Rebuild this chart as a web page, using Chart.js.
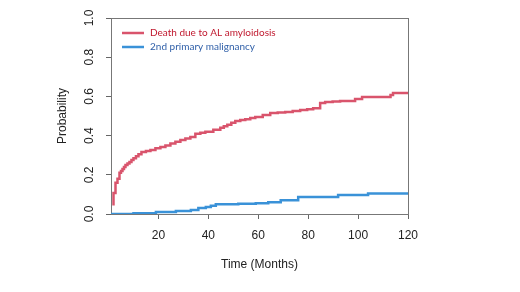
<!DOCTYPE html>
<html>
<head>
<meta charset="utf-8">
<script src="https://cdn.jsdelivr.net/npm/chart.js@4/dist/chart.umd.min.js"></script>
<style>
  html, body { margin: 0; padding: 0; background: #fff; }
  #wrap { width: 520px; height: 292px; }
</style>
</head>
<body>
<div id="wrap"><canvas id="km"></canvas></div>
<script>
// cumulative incidence
const deathMonths = [1.5, 2, 2.8, 3.6, 4.4, 5.0, 5.6, 6.2, 6.8, 7.6, 8.4, 9.2, 10, 11, 12, 13.2, 15, 16.8, 18.8, 20.8, 22.8, 24.8, 26.8, 28.8, 30.8, 32.8, 34.8, 36.8, 38.8, 42, 44.8, 46.2, 47.6, 49.2, 50.8, 52.8, 54.8, 56.8, 58.8, 61.8, 64.8, 67.8, 70.8, 73.8, 76.8, 79.6, 82, 84.8, 86.8, 89.8, 92.8, 98.8, 101.6, 113, 114, 120];
const deathProb   = [0.05, 0.107, 0.16, 0.18, 0.21, 0.22, 0.23, 0.24, 0.25, 0.258, 0.265, 0.275, 0.285, 0.295, 0.305, 0.316, 0.322, 0.327, 0.335, 0.342, 0.35, 0.36, 0.368, 0.378, 0.385, 0.393, 0.41, 0.415, 0.42, 0.43, 0.44, 0.448, 0.455, 0.465, 0.475, 0.48, 0.483, 0.49, 0.495, 0.505, 0.515, 0.518, 0.52, 0.525, 0.53, 0.535, 0.54, 0.566, 0.571, 0.574, 0.577, 0.587, 0.597, 0.607, 0.617, 0.617];

const spmMonths = [1, 10, 19, 27, 33, 36, 39, 41, 43, 52, 59, 64, 69, 76, 92, 104, 120];
const spmProb   = [0, 0.004, 0.01, 0.015, 0.02, 0.03, 0.036, 0.042, 0.05, 0.052, 0.055, 0.06, 0.07, 0.087, 0.097, 0.105, 0.105];

const xTicks = [20, 40, 60, 80, 100, 120];
const yTicks = [0, 0.2, 0.4, 0.6, 0.8, 1.0];

const seriesNames = ['Death due to AL amyloidosis', '2nd primary malignancy'];
const lineColors = ['#d9546c', '#3a92d8'];
const textColors = ['#c0182e', '#2f5fa8'];

const toPoints = (xs, ys) => xs.map((x, i) => ({ x: x, y: ys[i] }));

// box, rotated y labels and the inset legend
const extras = {
  id: 'extras',
  beforeDatasetsDraw(chart) {
    const { ctx, chartArea: a } = chart;
    ctx.save();
    ctx.strokeStyle = '#777';
    ctx.lineWidth = 1;
    ctx.strokeRect(a.left + 0.5, a.top + 0.5, a.right - a.left, a.bottom - a.top);
    ctx.restore();
  },
  afterDraw(chart) {
    const { ctx, chartArea: a } = chart;
    const y = chart.scales.y;
    ctx.save();
    ctx.fillStyle = '#222';
    ctx.font = '12px "Liberation Sans", Arial, sans-serif';
    ctx.textAlign = 'center';
    ctx.textBaseline = 'middle';
    yTicks.forEach(v => {
      ctx.save();
      ctx.translate(a.left - 21, y.getPixelForValue(v));
      ctx.rotate(-Math.PI / 2);
      ctx.fillText(v.toFixed(1), 0, 0);
      ctx.restore();
    });

    ctx.font = '10px Lato, "Open Sans", sans-serif';
    ctx.textAlign = 'left';
    seriesNames.forEach((name, i) => {
      const ly = a.top + 15 + i * 14;
      ctx.strokeStyle = lineColors[i];
      ctx.lineWidth = 2.5;
      ctx.beginPath();
      ctx.moveTo(a.left + 11, ly);
      ctx.lineTo(a.left + 33, ly);
      ctx.stroke();
      ctx.fillStyle = textColors[i];
      ctx.fillText(name, a.left + 39, ly);
    });
    ctx.restore();
  }
};

new Chart(document.getElementById('km'), {
  type: 'line',
  data: {
    datasets: [
      {
        label: seriesNames[0],
        data: toPoints(deathMonths, deathProb),
        borderColor: lineColors[0],
        borderWidth: 2.5,
        stepped: true,
        pointRadius: 0
      },
      {
        label: seriesNames[1],
        data: toPoints(spmMonths, spmProb),
        borderColor: lineColors[1],
        borderWidth: 2.5,
        stepped: true,
        pointRadius: 0
      }
    ]
  },
  options: {
    responsive: true,
    maintainAspectRatio: false,
    animation: false,
    layout: { padding: { left: 0, right: 112, top: 18, bottom: 0 } },
    plugins: { legend: { display: false }, tooltip: { enabled: false } },
    scales: {
      x: {
        type: 'linear',
        min: 1,
        max: 120,
        afterBuildTicks: s => { s.ticks = xTicks.map(v => ({ value: v })); },
        afterFit: s => { s.height = 78; },
        grid: { drawOnChartArea: false, drawTicks: true, tickLength: 5, color: '#666' },
        border: { color: '#666', width: 1 },
        ticks: {
          color: '#222',
          padding: 9,
          maxRotation: 0,
          font: { family: '"Liberation Sans", Arial, sans-serif', size: 12 }
        },
        title: {
          display: true,
          text: 'Time (Months)',
          color: '#222',
          padding: { top: 0, bottom: 20 },
          font: { family: '"Liberation Sans", Arial, sans-serif', size: 12 }
        }
      },
      y: {
        min: 0,
        max: 1,
        afterBuildTicks: s => { s.ticks = yTicks.map(v => ({ value: v })); },
        afterFit: s => { s.width = 111; },
        grid: { drawOnChartArea: false, drawTicks: true, tickLength: 5, color: '#666' },
        border: { color: '#666', width: 1 },
        ticks: { color: 'transparent', font: { size: 12 } },
        title: {
          display: true,
          text: 'Probability',
          color: '#222',
          padding: { top: 55, bottom: 0 },
          font: { family: '"Liberation Sans", Arial, sans-serif', size: 12 }
        }
      }
    }
  },
  plugins: [extras]
});
</script>
</body>
</html>
